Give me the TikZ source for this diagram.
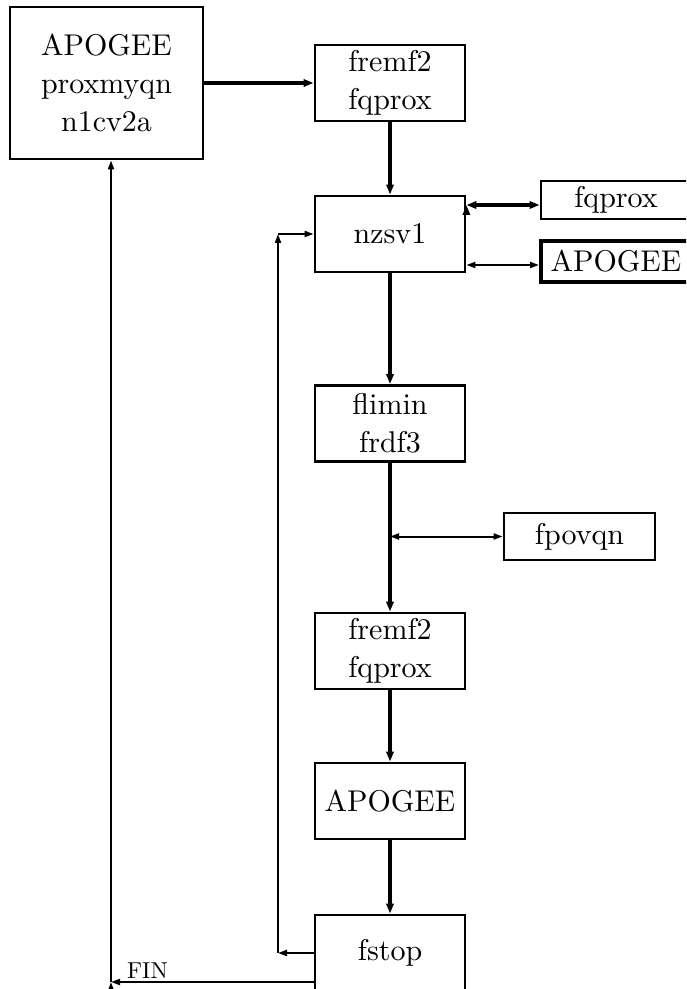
\documentclass[tikz,border=0pt]{standalone}
\usepackage{fontspec}
\setmainfont{lmroman10-regular}[Extension=.otf]
\usepackage{tikz}
\usetikzlibrary{arrows.meta}
\usetikzlibrary{calc}
\usetikzlibrary{positioning}

\begin{document}
\begin{tikzpicture}[x=0.5pt,y=-0.5pt,
    box/.style={draw,rectangle,line width=1.4pt,minimum width=75pt,minimum height=38pt,
      inner sep=0pt,align=center,font=\fontsize{15}{19}\selectfont},
    flow/.style={draw,line width=1.65pt,->,>={Triangle[length=5pt,width=3.6pt]}},
    back/.style={draw,line width=1pt,->,>={Triangle[length=4.5pt,width=3pt]}}]

  \clip (0,0) rectangle (686,989);

  \node [box,minimum width=96.5pt,minimum height=76pt] (Apo) at (106.5,83) {APOGEE\\proxmyqn\\n1cv2a};
  \node [box] (Fremf) at (390,83) {fremf2\\fqprox};
  \node [box] (Nzsv) at (390,234) {nzsv1};
  \node [box,minimum height=19pt] (Fqprox) at (616,200) {fqprox};
  \node [box,minimum height=20.5pt,line width=2pt] (ApoR) at (616,261.5) {APOGEE};
  \node [box] (Flim) at (390,423.5) {flimin\\frdf3};
  \node [box,minimum width=75.5pt,minimum height=23.5pt] (Fpov) at (579.5,536.5) {fpovqn};
  \node [box] (Fremfb) at (390,651) {fremf2\\fqprox};
  \node [box] (Apob) at (390,801) {APOGEE};
  \node [box] (Fstop) at (390,953) {fstop};

  \coordinate (Fq) at ([yshift=-2.5pt]Fqprox.west);
  \coordinate (NzFq) at (Nzsv.east |- Fq);
  \coordinate (Ap) at ([yshift=-1.75pt]ApoR.west);
  \coordinate (NzAp) at (Nzsv.east |- Ap);
  \coordinate (Split) at (Flim.south |- Fpov.west);
  \coordinate (Loop) at (278,0);
  \coordinate (Fin) at (111,0);
  \coordinate (FinS) at ([yshift=-14.5pt]Fstop.west);

  \path [flow]
    (Apo)    edge (Fremf)
    (Fremf)  edge (Nzsv)
    (Nzsv)   edge (Flim)
    (Flim)   edge (Fremfb)
    (Fremfb) edge (Apob)
    (Apob)   edge (Fstop)
    (NzFq)   edge [<->] (Fq);

  \path [back]
    (NzAp)  edge [<->] (Ap)
    (Split) edge [<->] (Fpov)

    (Fstop.west)            edge (Fstop.west -| Loop)
    (Fstop.west -| Loop)    edge (Loop |- Nzsv.west)
    (Loop |- Nzsv.west)     edge (Nzsv.west)

    (FinS) edge node [above,pos=0.82,inner sep=1.5pt,font=\fontsize{11.5}{14}\selectfont] {FIN} (FinS -| Fin)
    (FinS -| Fin)           edge (Apo.south -| Fin);

\end{tikzpicture}
\end{document}
